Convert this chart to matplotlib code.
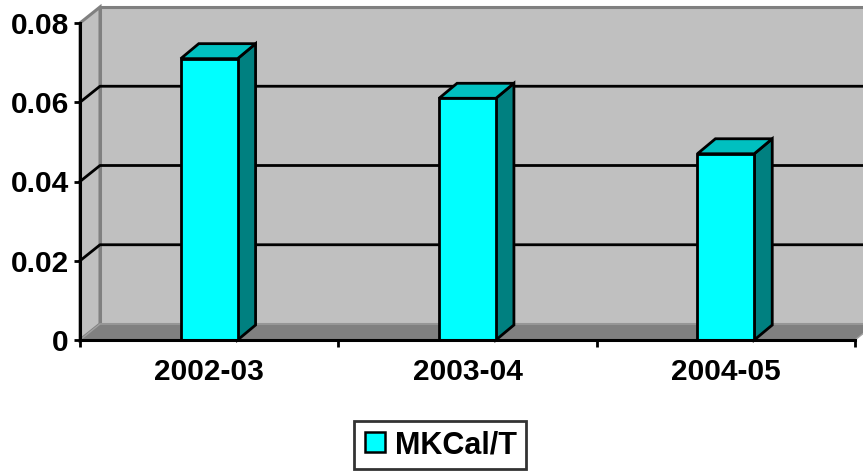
import matplotlib
matplotlib.use("Agg")
import matplotlib.pyplot as plt
from matplotlib.patches import Polygon, Rectangle
from matplotlib.lines import Line2D
from matplotlib.transforms import IdentityTransform, offset_copy

categories = ["2002-03", "2003-04", "2004-05"]
values = [0.071, 0.061, 0.047]
series_name = "MKCal/T"
y_ticks = [0, 0.02, 0.04, 0.06, 0.08]
y_tick_labels = ["0", "0.02", "0.04", "0.06", "0.08"]

W, H, DPI = 863, 472, 100
plt.rcParams['font.family'] = ['Liberation Sans', 'DejaVu Sans']
plt.rcParams['font.weight'] = 'bold'

fig = plt.figure(figsize=(W / DPI, H / DPI), dpi=DPI)
ax = fig.add_axes([80 / W, 132 / H, 775 / W, 317 / H])
n = len(categories)
ax.set_xlim(0, n)
ax.set_ylim(0, y_ticks[-1])
ax.patch.set_visible(False)

# depth of the 3-D box (pixels): walls and bars
WALL_DX, WALL_DY = 20, 16
BAR_DX, BAR_DY = 18, 15
ident = IdentityTransform()


def disp(x, y, dx=0, dy=0):
    px, py = ax.transData.transform((x, y))
    return (px + dx, py + dy)


ymax = y_ticks[-1]
# back wall
back = offset_copy(ax.transData, fig, x=WALL_DX, y=WALL_DY, units='dots')
ax.add_patch(Rectangle((0, 0), n, ymax, transform=back, facecolor='#C0C0C0',
                       edgecolor='#808080', lw=2.2, clip_on=False, zorder=0))
# left side wall
ax.add_patch(Polygon([disp(0, 0), disp(0, ymax), disp(0, ymax, WALL_DX, WALL_DY),
                      disp(0, 0, WALL_DX, WALL_DY)], closed=True, transform=ident,
                     facecolor='#C0C0C0', edgecolor='#808080', lw=2.2,
                     clip_on=False, zorder=0.5))
# gridlines across side wall and back wall
for yv in y_ticks[1:-1]:
    pts = [disp(0, yv), disp(0, yv, WALL_DX, WALL_DY), disp(n, yv, WALL_DX, WALL_DY)]
    ax.add_line(Line2D([p[0] for p in pts], [p[1] for p in pts], transform=ident,
                       color='black', lw=2, clip_on=False, zorder=1))
# floor
ax.add_patch(Polygon([disp(0, 0), disp(n, 0), disp(n, 0, WALL_DX, WALL_DY),
                      disp(0, 0, WALL_DX, WALL_DY)], closed=True, transform=ident,
                     facecolor='#808080', edgecolor='#A0A0A0', lw=1,
                     clip_on=False, zorder=2))

# bars
bar_w = 0.22
xs = [i + 0.5 for i in range(n)]
for x, v in zip(xs, values):
    l, r = x - bar_w / 2, x + bar_w / 2
    side = [disp(r, 0), disp(r, v), disp(r, v, BAR_DX, BAR_DY), disp(r, 0, BAR_DX, BAR_DY)]
    top = [disp(l, v), disp(r, v), disp(r, v, BAR_DX, BAR_DY), disp(l, v, BAR_DX, BAR_DY)]
    ax.add_patch(Polygon(side, closed=True, transform=ident, facecolor='#008080',
                         edgecolor='black', lw=2, clip_on=False, zorder=3,
                         joinstyle='miter'))
    ax.add_patch(Polygon(top, closed=True, transform=ident, facecolor='#00C0C0',
                         edgecolor='black', lw=2, clip_on=False, zorder=3,
                         joinstyle='miter'))
ax.bar(xs, values, width=bar_w, color='#00FFFF', edgecolor='black', lw=2,
       zorder=4, clip_on=False)

# axes lines and ticks
for s in ['top', 'right']:
    ax.spines[s].set_visible(False)
for s in ['left', 'bottom']:
    ax.spines[s].set_linewidth(2.2)
    ax.spines[s].set_zorder(10)
ax.set_yticks(y_ticks)
ax.set_yticklabels(y_tick_labels, fontsize=21.5, fontweight='bold')
ax.tick_params(axis='y', length=4, width=2, pad=4)
ax.set_xticks(range(n + 1))
ax.set_xticklabels([''] * (n + 1))
ax.tick_params(axis='x', which='major', length=5, width=2)
ax.set_xticks(xs, minor=True)
ax.set_xticklabels(categories, minor=True, fontsize=21.5, fontweight='bold')
ax.tick_params(axis='x', which='minor', length=0, pad=13)

handle = Line2D([], [], marker='s', ls='none', markerfacecolor='#00FFFF',
                markeredgecolor='black', markersize=14, markeredgewidth=1.8)
leg = ax.legend([handle], [series_name], loc='center',
                bbox_to_anchor=(440 / W, 1 - 445 / H), bbox_transform=fig.transFigure,
                frameon=True, fancybox=False, prop={'size': 22, 'weight': 'bold'},
                handlelength=0.8, handletextpad=0.25, borderpad=0.28,
                borderaxespad=0)
leg.get_frame().set_edgecolor('black')
leg.get_frame().set_linewidth(2)

fig.savefig('out.png', dpi=DPI)
